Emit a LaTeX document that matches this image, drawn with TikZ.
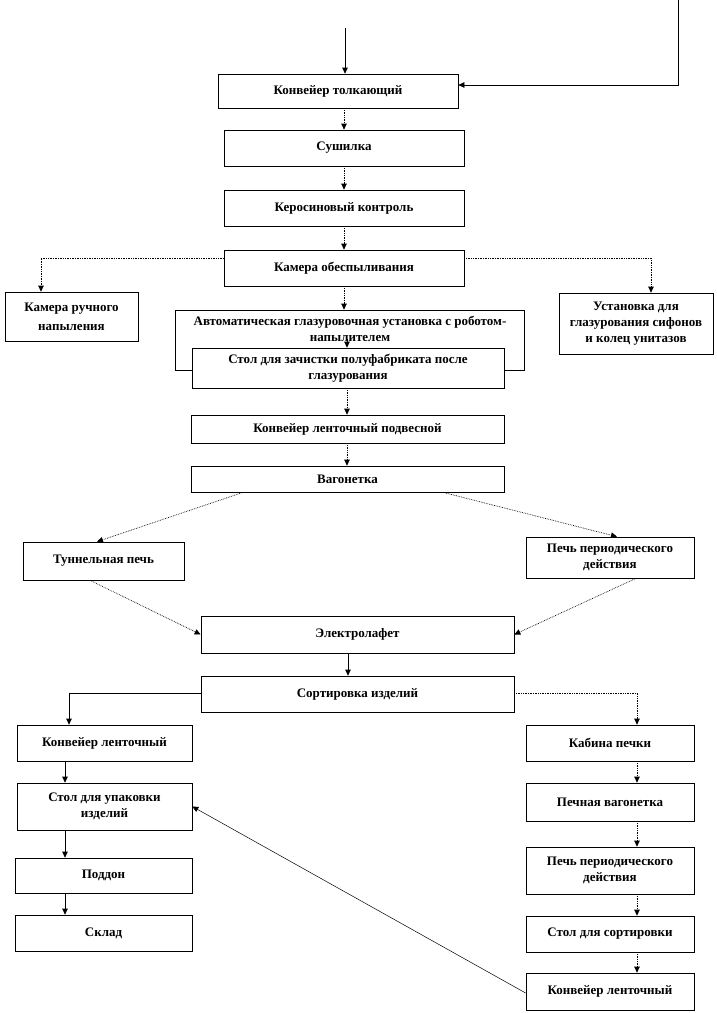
\documentclass[tikz,border=0pt]{standalone}
\usepackage{fontspec}
\setmainfont{Liberation Serif}
\usetikzlibrary{arrows.meta,calc}
\newcommand\mybox[6]{%
  \node[box, minimum width={#4pt-#2pt}, minimum height={#5pt-#3pt}] (#1) at ({(#2+#4)/2},{(#3+#5)/2}) {#6};}
\begin{document}
\begin{tikzpicture}[x=1pt,y=-1pt,
  txt/.style={align=center, inner sep=0pt, font=\fontsize{13}{16}\selectfont\bfseries},
  box/.style={txt, draw, line width=0.7pt, fill=white},
  conn/.style={line width=0.7pt, -{Triangle[length=6pt,width=5.5pt]}},
  dconn/.style={conn, densely dotted},
]
\fill[white] (0,0) rectangle (717,1013);
\useasboundingbox (0,0) rectangle (717,1013);

\mybox{tolk}{218}{74}{458}{108}{Конвейер толкающий}
\mybox{sush}{224}{130}{464}{166}{Сушилка}
\mybox{kero}{224}{190}{464}{226}{Керосиновый контроль}
\mybox{obes}{224}{250}{464}{286}{Камера обеспыливания}
\mybox{ruch}{5}{292}{138}{341}{Камера ручного\\[3pt]напыления}
\mybox{ustan}{559}{293}{713}{354}{Установка для\\глазурования сифонов\\и колец унитазов}
\mybox{auto}{175}{310}{524}{370}{}
\node[txt, anchor=north] (autot) at (350,316) {Автоматическая глазуровочная установка с роботом-\\напылителем};
\mybox{stolz}{192}{348}{504}{388}{Стол для зачистки полуфабриката после\\глазурования}
\mybox{podv}{191}{415}{504}{443}{Конвейер ленточный подвесной}
\mybox{vag}{191}{466}{504}{492}{Вагонетка}
\mybox{tunn}{23}{542}{184}{580}{Туннельная печь}
\mybox{pech1}{526}{537}{694}{578}{Печь периодического\\действия}
\mybox{elek}{201}{616}{514}{653}{Электролафет}
\mybox{sort}{201}{676}{514}{712}{Сортировка изделий}
\mybox{lentL}{17}{725}{192}{761}{Конвейер ленточный}
\mybox{upak}{17}{783}{192}{830}{Стол для упаковки\\изделий}
\mybox{podd}{15}{858}{192}{893}{Поддон}
\mybox{sklad}{15}{915}{192}{951}{Склад}
\mybox{kab}{526}{725}{694}{761}{Кабина печки}
\mybox{pvag}{526}{783}{694}{821}{Печная вагонетка}
\mybox{pech2}{526}{847}{694}{894}{Печь периодического\\действия}
\mybox{stsort}{526}{916}{694}{952}{Стол для сортировки}
\mybox{lentR}{526}{973}{694}{1010}{Конвейер ленточный}

\coordinate (intop) at (345,28);
\coordinate (rtop) at (678,0);
\coordinate (rc) at (678,85);
\coordinate (a2) at (347,339);

\draw[conn] (intop) -- (intop |- tolk.north);
\draw[conn] (rtop) -- (rc) -- (rc -| tolk.east);
\draw[dconn] (sush.north |- tolk.south) -- (sush.north);
\draw[dconn] (sush.south) -- (kero.north);
\draw[dconn] (kero.south) -- (obes.north);
\draw[dconn] (obes.west |- 0,258) -| (ruch.north -| 41,0);
\draw[dconn] (obes.east |- 0,258) -| (ustan.north -| 651,0);
\draw[dconn] (obes.south) -- (obes.south |- auto.north);
\draw[conn] (a2) -- (stolz.north -| a2);
\draw[dconn] (stolz.south -| a2) -- (podv.north -| a2);
\draw[dconn] (podv.south -| a2) -- (vag.north -| a2);
\draw[dconn] (vag.south -| 243,0) -- (tunn.north -| 97,0);
\draw[dconn] (vag.south -| 443,0) -- (pech1.north -| 617,0);
\draw[dconn] (tunn.south -| 90,0) -- (elek.west);
\draw[dconn] (pech1.south -| 636,0) -- (elek.east);
\draw[conn] (elek.south -| 348,0) -- (sort.north -| 348,0);
\draw[conn] (sort.west |- 0,693) -| (lentL.north -| 69,0);
\draw[dconn] (sort.east |- 0,693) -| (kab.north -| 637,0);
\draw[conn] (lentL.south -| 65,0) -- (upak.north -| 65,0);
\draw[conn] (upak.south -| 65,0) -- (podd.north -| 65,0);
\draw[conn] (podd.south -| 65,0) -- (sklad.north -| 65,0);
\draw[dconn] (kab.south -| 637,0) -- (pvag.north -| 637,0);
\draw[dconn] (pvag.south -| 637,0) -- (pech2.north -| 637,0);
\draw[dconn] (pech2.south -| 637,0) -- (stsort.north -| 637,0);
\draw[dconn] (stsort.south -| 637,0) -- (lentR.north -| 637,0);
\draw[conn, line width=0.5pt] (lentR.west |- 0,993) -- (upak.east);
\end{tikzpicture}
\end{document}
